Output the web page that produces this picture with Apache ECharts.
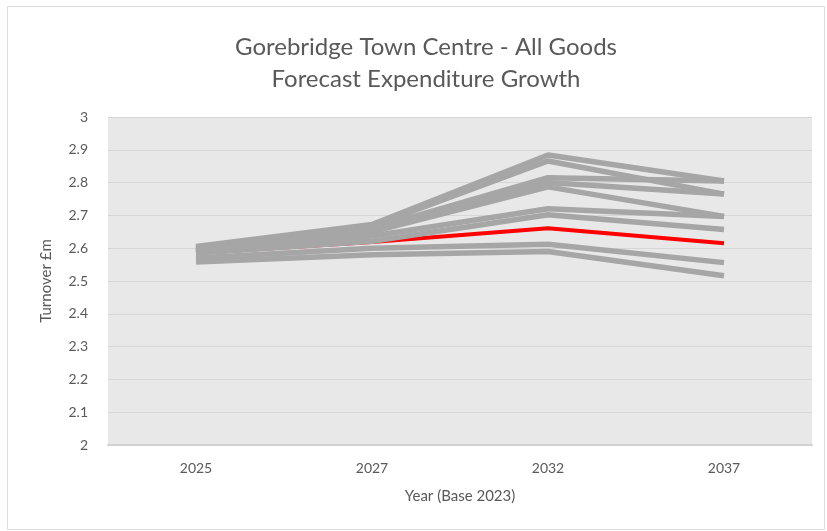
<!DOCTYPE html>
<html>
<head>
<meta charset="utf-8">
<script src="https://cdn.jsdelivr.net/npm/echarts@6/dist/echarts.min.js"></script>
<style>
  html, body { margin: 0; padding: 0; background: #fff; }
  #main { width: 827px; height: 531px; }
</style>
</head>
<body>
<div id="main"></div>
<script>
// x categories
const years = ['2025', '2027', '2032', '2037'];

// grey scenario lines (turnover £m)
const scenA = [2.605, 2.672, 2.884, 2.805];
const scenB = [2.600, 2.667, 2.866, 2.765];
const scenC = [2.597, 2.660, 2.815, 2.805];
const scenD = [2.593, 2.655, 2.800, 2.765];
const scenE = [2.590, 2.650, 2.787, 2.697];
const scenF = [2.588, 2.637, 2.720, 2.697];
const scenG = [2.585, 2.621, 2.702, 2.657];
const scenH = [2.570, 2.600, 2.612, 2.556];
const scenI = [2.558, 2.580, 2.590, 2.516];

// highlighted (red) line
const mainLine = [2.585, 2.619, 2.661, 2.615];

const greyLines = [scenA, scenB, scenC, scenD, scenE, scenF, scenG, scenH, scenI];

const font = 'Lato, "Noto Sans", sans-serif';
const txt = '#595959';

const series = [];
// red drawn first so the grey lines cover it near 2025
series.push({
  type: 'line',
  data: mainLine,
  symbol: 'none',
  lineStyle: { color: '#ff0000', width: 4 },
  z: 1
});
greyLines.forEach(function (d) {
  series.push({
    type: 'line',
    data: d,
    symbol: 'none',
    lineStyle: { color: '#a6a6a6', width: 5.5 },
    z: 2
  });
});

const chart = echarts.init(document.getElementById('main'));
chart.setOption({
  animation: false,
  backgroundColor: '#fff',
  graphic: [{
    type: 'rect',
    shape: { x: 7.5, y: 6.5, width: 817, height: 523 },
    style: { fill: 'none', stroke: '#dcdcdc', lineWidth: 1 },
    silent: true
  }],
  title: {
    text: 'Gorebridge Town Centre - All Goods\nForecast Expenditure Growth',
    left: 421,
    top: 26,
    textAlign: 'center',
    textStyle: {
      fontFamily: font,
      fontWeight: 'normal',
      fontSize: 24,
      lineHeight: 32,
      color: txt
    }
  },
  grid: {
    left: 108,
    right: 15,
    top: 117,
    bottom: 86,
    show: true,
    backgroundColor: '#e8e8e8',
    borderWidth: 0
  },
  xAxis: {
    type: 'category',
    data: years,
    boundaryGap: true,
    name: 'Year (Base 2023)',
    nameLocation: 'middle',
    nameGap: 44,
    nameTextStyle: { fontFamily: font, fontSize: 15, color: txt },
    axisLine: { show: true, lineStyle: { color: '#d0d0d0', width: 2 } },
    axisTick: { show: false },
    axisLabel: { margin: 16, fontFamily: font, fontSize: 14, color: txt }
  },
  yAxis: {
    type: 'value',
    min: 2,
    max: 3,
    interval: 0.1,
    name: 'Turnover £m',
    nameLocation: 'middle',
    nameGap: 54,
    nameRotate: 90,
    nameTextStyle: { fontFamily: font, fontSize: 15, color: txt },
    axisLine: { show: false },
    axisTick: { show: false },
    axisLabel: {
      margin: 20,
      fontFamily: font,
      fontSize: 14,
      color: txt,
      formatter: function (v) { return +v.toFixed(1) + ''; }
    },
    splitLine: { show: true, lineStyle: { color: '#d6d6d6', width: 1 } }
  },
  series: series
});
</script>
</body>
</html>
